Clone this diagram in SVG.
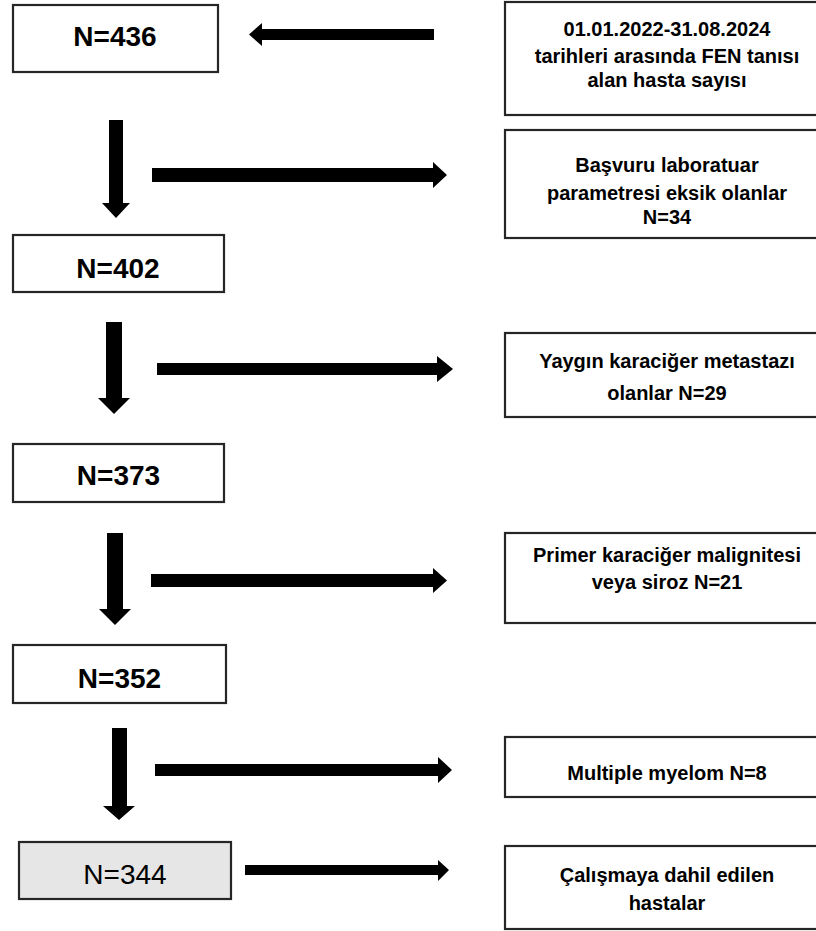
<svg xmlns="http://www.w3.org/2000/svg" width="816" height="931" viewBox="0 0 816 931">
<style>
.box{fill:#ffffff;stroke:#262626;stroke-width:2.2}
.gray{fill:#e6e6e6}
.num{font-family:"Liberation Sans",Arial,sans-serif;font-size:28px;font-weight:bold;fill:#000;text-anchor:middle}
.reg{font-weight:normal}
.lbl{font-family:"Liberation Sans",Arial,sans-serif;font-size:20px;font-weight:bold;fill:#000;text-anchor:middle}
.arr{fill:#000}
</style>
<rect x="0" y="0" width="816" height="931" fill="#ffffff"/>
<g id="connectors">
<polygon class="arr" points="249,34.5 262,23 262,29 434,29 434,40 262,40 262,46"/>
<polygon class="arr" points="109,120 123,120 123,203 130,203 116,218 102,203 109,203"/>
<polygon class="arr" points="152,168 433,168 433,162 447,175 433,188 433,182 152,182"/>
<polygon class="arr" points="106,322 122,322 122,398 130,398 114,414 98,398 106,398"/>
<polygon class="arr" points="157,363 437,363 437,356 453,369 437,382 437,375 157,375"/>
<polygon class="arr" points="107,533 123,533 123,609 131,609 115,625 99,609 107,609"/>
<polygon class="arr" points="151,574 433,574 433,568 447,580.5 433,593 433,587 151,587"/>
<polygon class="arr" points="112,728 127,728 127,806 135,806 119,820 103,806 112,806"/>
<polygon class="arr" points="155,764 438,764 438,757 452,770 438,783 438,776 155,776"/>
<polygon class="arr" points="245,865 438,865 438,860 449,870 438,881 438,875 245,875"/>
</g>
<g id="n436">
<rect class="box" x="13" y="5" width="205" height="67"/>
<text class="num" x="115" y="46">N=436</text>
</g>
<g id="n402">
<rect class="box" x="13" y="235" width="211" height="57"/>
<text class="num" x="118" y="278">N=402</text>
</g>
<g id="n373">
<rect class="box" x="13" y="444" width="211" height="58"/>
<text class="num" x="118.5" y="485">N=373</text>
</g>
<g id="n352">
<rect class="box" x="13" y="645" width="213" height="58"/>
<text class="num" x="119.5" y="688">N=352</text>
</g>
<g id="n344">
<rect class="box gray" x="19" y="842" width="212" height="57"/>
<text class="num reg" x="125" y="884">N=344</text>
</g>
<g id="source">
<rect class="box" x="505" y="2" width="330" height="113"/>
<text class="lbl" x="667" y="36">01.01.2022-31.08.2024</text>
<text class="lbl" x="667" y="63">tarihleri arasında FEN tanısı</text>
<text class="lbl" x="667" y="87">alan hasta sayısı</text>
</g>
<g id="excl1">
<rect class="box" x="505" y="130" width="330" height="108"/>
<text class="lbl" x="667" y="172">Başvuru laboratuar</text>
<text class="lbl" x="667" y="200">parametresi eksik olanlar</text>
<text class="lbl" x="667" y="224">N=34</text>
</g>
<g id="excl2">
<rect class="box" x="505" y="333" width="330" height="84"/>
<text class="lbl" x="667" y="368">Yaygın karaciğer metastazı</text>
<text class="lbl" x="667" y="400">olanlar N=29</text>
</g>
<g id="excl3">
<rect class="box" x="505" y="533" width="330" height="90"/>
<text class="lbl" x="667" y="562">Primer karaciğer malignitesi</text>
<text class="lbl" x="667" y="589">veya siroz N=21</text>
</g>
<g id="excl4">
<rect class="box" x="505" y="737" width="330" height="60"/>
<text class="lbl" x="667" y="780">Multiple myelom N=8</text>
</g>
<g id="included">
<rect class="box" x="505" y="846" width="330" height="83"/>
<text class="lbl" x="667" y="882">Çalışmaya dahil edilen</text>
<text class="lbl" x="667" y="910">hastalar</text>
</g>
</svg>
